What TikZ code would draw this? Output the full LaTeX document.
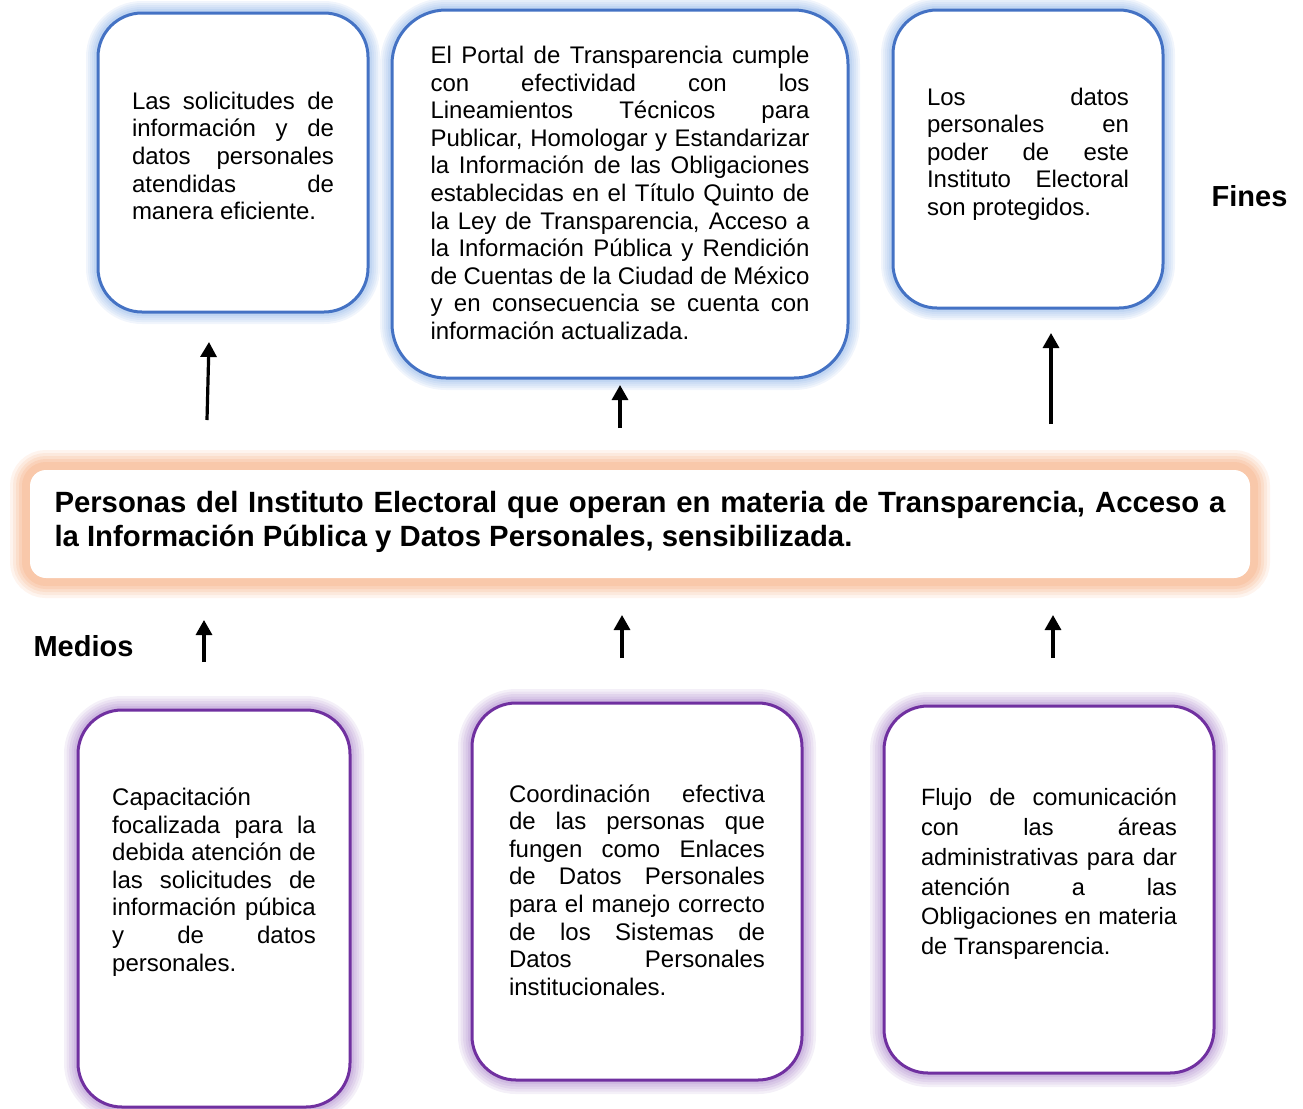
\documentclass[tikz,border=0pt]{standalone}
\usepackage{fontspec}
\setmainfont{Liberation Sans}
\usetikzlibrary{calc,positioning,arrows.meta}
\definecolor{FinBlue}{HTML}{4472C4}
\definecolor{FinGlow}{HTML}{8FB4E8}
\definecolor{MedPurple}{HTML}{7030A0}
\definecolor{MedGlow}{HTML}{A680C8}
\definecolor{PropGlow}{HTML}{F6B085}
\hyphenpenalty=10000
\exhyphenpenalty=10000

\begin{document}
\begin{tikzpicture}[
      x=0.5pt, y=-0.5pt,
      finbox/.style={
        rounded corners=22pt, draw=FinBlue, line width=1.5pt, fill=white, inner sep=0pt,
        preaction={draw=FinGlow, line width=12pt, draw opacity=0.13},
        preaction={draw=FinGlow, line width=10pt, draw opacity=0.13},
        preaction={draw=FinGlow, line width=8pt, draw opacity=0.13},
        preaction={draw=FinGlow, line width=6pt, draw opacity=0.15},
        preaction={draw=FinGlow, line width=4pt, draw opacity=0.2}
      },
      medbox/.style={
        rounded corners=22pt, draw=MedPurple, line width=1.5pt, fill=white, inner sep=0pt,
        preaction={draw=MedGlow, line width=14pt, draw opacity=0.12},
        preaction={draw=MedGlow, line width=11.5pt, draw opacity=0.12},
        preaction={draw=MedGlow, line width=9pt, draw opacity=0.14},
        preaction={draw=MedGlow, line width=6.5pt, draw opacity=0.16},
        preaction={draw=MedGlow, line width=4pt, draw opacity=0.2}
      },
      propbox/.style={
        rounded corners=8pt, fill=white, inner sep=0pt,
        preaction={draw=PropGlow, line width=20pt, draw opacity=0.14},
        preaction={draw=PropGlow, line width=17pt, draw opacity=0.16},
        preaction={draw=PropGlow, line width=14pt, draw opacity=0.2},
        preaction={draw=PropGlow, line width=11pt, draw opacity=0.25},
        preaction={draw=PropGlow, line width=8pt, draw opacity=0.3}
      },
      txt/.style={inner sep=0pt, align=justify, font=\fontsize{12pt}{13.8pt}\selectfont},
      lbl/.style={inner sep=0pt, font=\fontsize{14.5pt}{17pt}\selectfont\bfseries},
      link/.style={-{Triangle[length=7.5pt,width=8pt]}, line width=1.6pt, black}
    ]
      \useasboundingbox (0,0) rectangle (1303,1109);

      % fines
      \node[finbox, minimum width=135pt, minimum height=149.5pt] (f1) at (233,162.5) {};
      \node[finbox, rounded corners=27pt, minimum width=228pt, minimum height=184pt] (f2) at (620,194) {};
      \node[finbox, minimum width=135pt, minimum height=149pt] (f3) at (1028,159) {};
      \node[txt, text width=101pt] (f1t) at (233,156)
        {Las solicitudes de\linebreak información y de\linebreak datos personales\linebreak
         atendidas de\linebreak manera eficiente.};
      \node[txt, text width=189.5pt] (f2t) at (620,193)
        {El Portal de Transparencia cumple\linebreak con efectividad con los\linebreak
         Lineamientos Técnicos para\linebreak Publicar, Homologar y Estandarizar\linebreak
         la Información de las Obligaciones\linebreak establecidas en el Título Quinto de\linebreak
         la Ley de Transparencia, Acceso a\linebreak la Información Pública y Rendición\linebreak
         de Cuentas de la Ciudad de México\linebreak y en consecuencia se cuenta con\linebreak
         información actualizada.};
      \node[txt, text width=101pt] (f3t) at (1028,154)
        {Los datos\linebreak personales en\linebreak poder de este\linebreak
         Instituto Electoral\linebreak son protegidos.};
      \node[lbl] (fines) at (1249.5,196) {Fines};

      % proposito
      \node[propbox, minimum width=610pt, minimum height=54pt] (prop) at (640,524) {};
      \node[txt, text width=585.5pt, font=\fontsize{14.65pt}{17pt}\selectfont\bfseries] (propt) at (640,522)
        {Personas del Instituto Electoral que operan en materia de Transparencia, Acceso a\linebreak
         la Información Pública y Datos Personales, sensibilizada.};

      % medios
      \node[lbl] (medios) at (83.5,646) {Medios};
      \node[medbox, minimum width=136pt, minimum height=198.5pt] (m1) at (214,908.5) {};
      \node[medbox, minimum width=165pt, minimum height=188.5pt] (m2) at (637,891.5) {};
      \node[medbox, minimum width=165pt, minimum height=183.5pt] (m3) at (1049,889.5) {};
      \node[txt, text width=101.8pt] (m1t) at (214,882)
        {Capacitación\linebreak focalizada para la\linebreak debida atención de\linebreak
         las solicitudes de\linebreak información púbica\linebreak y de datos\linebreak personales.};
      \node[txt, text width=128pt] (m2t) at (637,890)
        {Coordinación efectiva\linebreak de las personas que\linebreak fungen como Enlaces\linebreak
         de Datos Personales\linebreak para el manejo correcto\linebreak de los Sistemas de\linebreak
         Datos Personales\linebreak institucionales.};
      \node[txt, text width=128pt, font=\fontsize{11.8pt}{14.9pt}\selectfont] (m3t) at (1049,874)
        {Flujo de comunicación\linebreak con las áreas\linebreak administrativas para dar\linebreak
         atención a las\linebreak Obligaciones en materia\linebreak de Transparencia.};

      \coordinate (u1) at (207,420); \coordinate (u1e) at (209,342);
      \coordinate (u2) at (620,428); \coordinate (u2e) at (620,385);
      \coordinate (u3) at (1051,424); \coordinate (u3e) at (1051,333);
      \coordinate (d1) at (204,662); \coordinate (d1e) at (204,620);
      \coordinate (d2) at (622,658); \coordinate (d2e) at (622,615);
      \coordinate (d3) at (1053,658); \coordinate (d3e) at (1053,615);
      \draw[link] (u1)--(u1e); \draw[link] (u2)--(u2e); \draw[link] (u3)--(u3e);
      \draw[link] (d1)--(d1e); \draw[link] (d2)--(d2e); \draw[link] (d3)--(d3e);
    \end{tikzpicture}
\end{document}
